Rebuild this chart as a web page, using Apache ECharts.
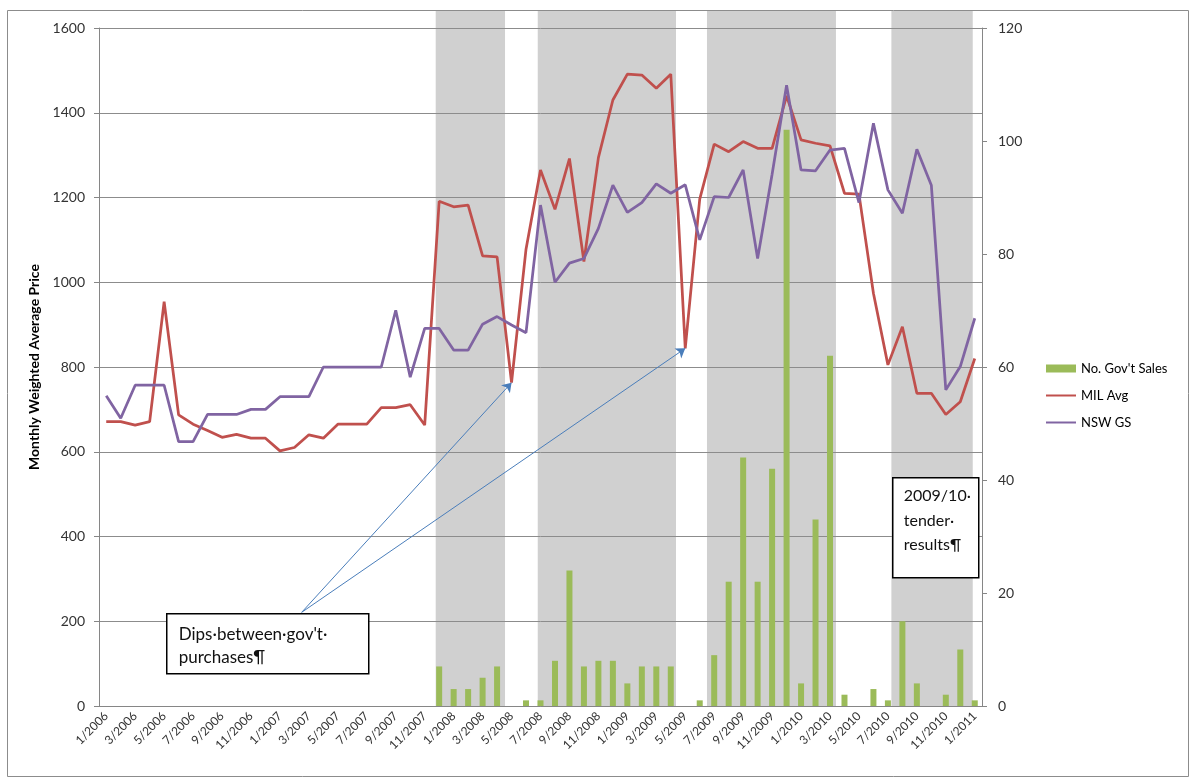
<!DOCTYPE html>
<html>
<head>
<meta charset="utf-8">
<title>Monthly Weighted Average Price</title>
<script src="https://cdn.jsdelivr.net/npm/echarts@6/dist/echarts.min.js"></script>
<style>
  html, body { margin: 0; padding: 0; background: #ffffff; }
  #chart { width: 1192px; height: 778px; }
</style>
</head>
<body>
<div id="chart"></div>
<script>
// Months on the category axis
const months = [
  '1/2006','2/2006','3/2006','4/2006','5/2006','6/2006','7/2006','8/2006','9/2006','10/2006','11/2006','12/2006',
  '1/2007','2/2007','3/2007','4/2007','5/2007','6/2007','7/2007','8/2007','9/2007','10/2007','11/2007','12/2007',
  '1/2008','2/2008','3/2008','4/2008','5/2008','6/2008','7/2008','8/2008','9/2008','10/2008','11/2008','12/2008',
  '1/2009','2/2009','3/2009','4/2009','5/2009','6/2009','7/2009','8/2009','9/2009','10/2009','11/2009','12/2009',
  '1/2010','2/2010','3/2010','4/2010','5/2010','6/2010','7/2010','8/2010','9/2010','10/2010','11/2010','12/2010',
  '1/2011'
];

// Number of government sales per month (right axis)
const govSales = [
  0,0,0,0,0,0,0,0,0,0,0,0,
  0,0,0,0,0,0,0,0,0,0,0,7,
  3,3,5,7,0,1,1,8,24,7,8,8,
  4,7,7,7,0,1,9,22,44,22,42,102,
  4,33,62,2,0,3,1,15,4,0,2,10,
  1
];

// MIL average monthly weighted price (left axis)
const milAvg = [
  671,671,663,671,954,687,665,650,634,641,632,632,
  602,610,640,632,665,665,665,704,704,711,663,1191,
  1178,1182,1062,1060,763,1078,1265,1172,1292,1049,1294,1430,
  1491,1489,1458,1491,844,1196,1326,1308,1332,1316,1316,1440,
  1336,1328,1322,1210,1208,974,805,895,738,738,688,718,
  820
];

// NSW GS monthly weighted price (left axis)
const nswGs = [
  732,679,757,757,757,624,624,688,688,688,700,700,
  730,730,730,800,800,800,800,800,934,776,891,891,
  840,840,901,919,899,881,1182,1000,1045,1056,1127,1229,
  1165,1188,1232,1210,1230,1100,1202,1200,1265,1056,1255,1465,
  1265,1263,1312,1316,1188,1375,1218,1163,1314,1229,746,801,
  915
];

// Shaded purchase periods, in month units along the axis (start, end)
const purchasePeriods = [
  [23.26, 28.05],
  [30.31, 39.86],
  [42.0, 50.91],
  [54.74, 60.36]
];

// Callout arrows: start point (month units, price) and the dips they point at
const dipCalloutStart = [14.0, 221];
const dipMonths = [28, 40];

const chart = echarts.init(document.getElementById('chart'), null, { renderer: 'canvas' });

const axisGrey = '#868686';
const labelColor = '#333333';
const font = 'Lato';

const arrowLines = dipMonths.map(i => [
  { coord: dipCalloutStart, symbol: 'none' },
  { coord: [i + 0.5, milAvg[i]], symbol: 'arrow', symbolSize: 9 }
]);

// legend entries for the lines show only the stroke
const hiddenSymbol = { opacity: 0, color: 'rgba(0,0,0,0)', borderWidth: 0 };

const option = {
  animation: false,
  backgroundColor: '#ffffff',
  textStyle: { fontFamily: font },
  grid: { left: 99, right: 210, top: 28, bottom: 72, containLabel: false },
  legend: {
    orient: 'vertical',
    left: 1040,
    top: 357,
    itemWidth: 30,
    itemHeight: 8,
    itemGap: 14,
    selectedMode: false,
    textStyle: { fontFamily: font, fontSize: 13, color: '#000000' },
    data: [
      { name: "No. Gov't Sales", icon: 'rect' },
      { name: 'MIL Avg', itemStyle: hiddenSymbol },
      { name: 'NSW GS', itemStyle: hiddenSymbol }
    ]
  },
  xAxis: [
    {
      type: 'category',
      data: months,
      boundaryGap: true,
      z: 1,
      axisLine: { lineStyle: { color: axisGrey, width: 1 } },
      axisTick: { interval: 0, length: 5, lineStyle: { color: axisGrey } },
      axisLabel: { interval: 1, rotate: 45, fontSize: 12, color: labelColor, margin: 8, fontFamily: font },
      splitLine: { show: false }
    },
    {
      type: 'value',
      min: 0,
      max: 61,
      show: false
    }
  ],
  yAxis: [
    {
      type: 'value',
      min: 0,
      max: 1600,
      interval: 200,
      z: 1,
      name: 'Monthly Weighted Average Price',
      nameLocation: 'middle',
      nameGap: 54,
      nameTextStyle: { fontFamily: font, fontWeight: 'bold', fontSize: 14, color: '#000000' },
      axisLine: { show: true, lineStyle: { color: axisGrey } },
      axisTick: { show: true, length: 5, lineStyle: { color: axisGrey } },
      axisLabel: { fontSize: 14, color: labelColor, margin: 14, fontFamily: font, formatter: v => String(v) },
      splitLine: { show: true, lineStyle: { color: '#8c8c8c', width: 1 } }
    },
    {
      type: 'value',
      min: 0,
      max: 120,
      interval: 20,
      position: 'right',
      z: 1,
      axisLine: { show: true, lineStyle: { color: axisGrey } },
      axisTick: { show: true, length: 5, lineStyle: { color: axisGrey } },
      axisLabel: { fontSize: 14, color: labelColor, margin: 16, fontFamily: font, formatter: v => String(v) },
      splitLine: { show: false }
    }
  ],
  series: [
    {
      // grey shading for the purchase periods
      type: 'custom',
      xAxisIndex: 1,
      yAxisIndex: 0,
      z: 0,
      silent: true,
      clip: false,
      data: purchasePeriods,
      renderItem: function (params, api) {
        const a = api.coord([api.value(0), 0]);
        const b = api.coord([api.value(1), 0]);
        const top = params.coordSys.y - 17;
        return {
          type: 'rect',
          shape: { x: a[0], y: top, width: b[0] - a[0], height: a[1] - top },
          style: { fill: '#d0d0d0' }
        };
      }
    },
    {
      name: "No. Gov't Sales",
      type: 'bar',
      xAxisIndex: 0,
      yAxisIndex: 1,
      z: 2,
      barWidth: 6,
      itemStyle: { color: '#9bbb59' },
      data: govSales
    },
    {
      name: 'MIL Avg',
      type: 'line',
      xAxisIndex: 0,
      yAxisIndex: 0,
      z: 3,
      symbol: 'none',
      lineStyle: { color: '#c0504d', width: 2.75 },
      itemStyle: { color: '#c0504d' },
      data: milAvg
    },
    {
      name: 'NSW GS',
      type: 'line',
      xAxisIndex: 0,
      yAxisIndex: 0,
      z: 3,
      symbol: 'none',
      lineStyle: { color: '#8064a2', width: 2.75 },
      itemStyle: { color: '#8064a2' },
      data: nswGs
    },
    {
      // callout arrows to the price dips
      type: 'line',
      xAxisIndex: 1,
      yAxisIndex: 0,
      z: 4,
      data: [],
      silent: true,
      markLine: {
        silent: true,
        symbol: ['none', 'arrow'],
        symbolSize: 9,
        label: { show: false },
        lineStyle: { color: '#4a7ebb', width: 1, type: 'solid' },
        itemStyle: { color: '#4a7ebb' },
        data: arrowLines
      }
    }
  ],
  graphic: [
    {
      type: 'rect',
      silent: true,
      z: -10,
      shape: { x: 7.5, y: 10.5, width: 1181, height: 766 },
      style: { fill: 'none', stroke: '#8c8c8c', lineWidth: 1 }
    },
    {
      type: 'group',
      left: 166,
      top: 613,
      z: 100,
      children: [
        {
          type: 'rect',
          z: 100,
          shape: { x: 0, y: 0, width: 202, height: 60 },
          style: { fill: '#ffffff', stroke: '#000000', lineWidth: 1.5 }
        },
        {
          type: 'text',
          z: 101,
          x: 12,
          y: 9,
          style: {
            text: "Dips·between·gov't·\npurchases¶",
            font: '17px Lato',
            fill: '#111111',
            lineHeight: 23
          }
        }
      ]
    },
    {
      type: 'group',
      left: 892,
      top: 477,
      z: 100,
      children: [
        {
          type: 'rect',
          z: 100,
          shape: { x: 0, y: 0, width: 86, height: 100 },
          style: { fill: '#ffffff', stroke: '#000000', lineWidth: 1.5 }
        },
        {
          type: 'text',
          z: 101,
          x: 11,
          y: 6,
          style: {
            text: '2009/10·\ntender·\nresults¶',
            font: '16px Lato',
            fill: '#111111',
            lineHeight: 24.5
          }
        }
      ]
    }
  ]
};

chart.setOption(option);
</script>
</body>
</html>
